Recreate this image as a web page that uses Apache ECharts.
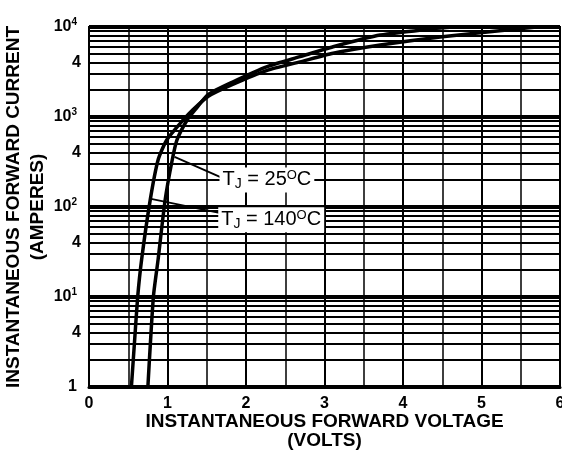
<!DOCTYPE html>
<html>
<head>
<meta charset="utf-8">
<script src="https://cdn.jsdelivr.net/npm/echarts@6/dist/echarts.min.js"></script>
<style>
  html, body { margin: 0; background: #fff; }
  #chart { width: 562px; height: 458px; }
</style>
</head>
<body>
<div id="chart"></div>
<script>
// forward voltage (V) and current (A)
const voltsHot = [0.54, 0.58, 0.62, 0.67, 0.78, 0.88, 0.99, 1.20, 1.32, 1.52, 1.83, 2.27, 2.69, 3.11, 3.71, 4.50, 5.70];
const ampsHot = [1, 3.2, 10, 26, 120, 333, 555, 926, 1196, 1700, 2300, 3300, 4100, 5100, 6300, 7800, 10000];
const voltsCold = [0.75, 0.82, 0.88, 0.97, 1.06, 1.12, 1.25, 1.35, 1.52, 1.83, 2.27, 2.69, 3.11, 3.71, 4.50, 4.65];
const ampsCold = [1, 10, 26, 120, 333, 555, 926, 1196, 1780, 2450, 3630, 4680, 6030, 8130, 9800, 10000];

// log paper: decades plus 2..9 in each
const decades = [1, 10, 100, 1000];
const mantissas = [2, 3, 4, 5, 6, 7, 8, 9];
const fourLabels = [4, 40, 400, 4000];

const font = 'Liberation Sans, Arial, sans-serif';
const pairs = (xs, ys) => xs.map((x, i) => [x, ys[i]]);

const minorLines = [];
decades.forEach(d => mantissas.forEach(m => {
  const v = d * m;
  const item = { yAxis: v };
  if (fourLabels.includes(v)) {
    item.label = { show: true, position: 'start', formatter: '4', distance: 8,
      color: '#000', fontSize: 16, fontWeight: 'bold', fontFamily: font };
  }
  minorLines.push(item);
}));

const tjRich = {
  t: { fontSize: 20, fontFamily: font, color: '#000' },
  sub: { fontSize: 14, fontFamily: font, color: '#000', padding: [9, 0, 0, 0] },
  sup: { fontSize: 13, fontFamily: font, color: '#000', padding: [0, 0, 8, 0] }
};

const myChart = echarts.init(document.getElementById('chart'));
const options = {
  animation: false,
  backgroundColor: '#fff',
  textStyle: { fontFamily: font, color: '#000' },
  grid: {
    left: 89, right: 2, top: 27, bottom: 71,
    outerBoundsMode: 'none',
    show: true, borderColor: '#000', borderWidth: 2
  },
  xAxis: {
    type: 'value',
    min: 0,
    max: 6,
    interval: 1,
    name: 'INSTANTANEOUS FORWARD VOLTAGE\n(VOLTS)',
    nameLocation: 'middle',
    nameGap: 25,
    nameMoveOverlap: false,
    nameTextStyle: { fontSize: 19, fontWeight: 'bold', lineHeight: 19, color: '#000', fontFamily: font },
    axisLine: { lineStyle: { color: '#000', width: 3 } },
    axisTick: { show: false },
    axisLabel: { fontSize: 16, fontWeight: 'bold', color: '#000', margin: 9, fontFamily: font },
    splitLine: { lineStyle: { color: '#000', width: 2 } },
    minorTick: { show: false, splitNumber: 2 },
    minorSplitLine: { show: true, lineStyle: { color: '#000', width: 1.5 } }
  },
  yAxis: {
    type: 'log',
    logBase: 10,
    min: 1,
    max: 10000,
    name: 'INSTANTANEOUS FORWARD CURRENT\n(AMPERES)',
    nameLocation: 'middle',
    nameRotate: 90,
    nameGap: 39,
    nameMoveOverlap: false,
    nameTextStyle: { fontSize: 19, fontWeight: 'bold', lineHeight: 24, color: '#000', fontFamily: font },
    axisLine: { show: true, lineStyle: { color: '#000', width: 2 } },
    axisTick: { show: false },
    axisLabel: {
      margin: 12,
      color: '#000',
      fontSize: 16,
      fontWeight: 'bold',
      fontFamily: font,
      formatter: v => v === 1 ? '1' : '10{sup|' + Math.round(Math.log10(v)) + '}',
      rich: { sup: { fontSize: 10, fontWeight: 'bold', fontFamily: font, color: '#000', padding: [0, 0, 9, 0] } }
    },
    splitLine: { lineStyle: { color: '#000', width: 4 } }
  },
  series: [
    {
      name: 'grid',
      type: 'line',
      data: [],
      z: 1,
      markLine: {
        silent: true,
        symbol: 'none',
        animation: false,
        label: { show: false },
        lineStyle: { color: '#000', width: 1.8, type: 'solid' },
        data: minorLines
      }
    },
    {
      name: 'TJ = 140C',
      type: 'line',
      data: pairs(voltsHot, ampsHot),
      smooth: 0.2,
      symbol: 'none',
      z: 3,
      lineStyle: { color: '#000', width: 3.5 },
      markLine: {
        silent: true,
        symbol: 'none',
        label: { show: false },
        lineStyle: { color: '#000', width: 1.8, type: 'solid' },
        data: [[{ coord: [0.79, 123] }, { coord: [1.66, 86] }]]
      },
      markPoint: {
        symbol: 'circle',
        symbolSize: 1,
        itemStyle: { color: 'rgba(0,0,0,0)' },
        label: {
          show: true,
          position: 'right',
          distance: 0,
          backgroundColor: '#fff',
          padding: [1, 3],
          formatter: '{t|T}{sub|J}{t| = 140}{sup|O}{t|C}',
          rich: tjRich
        },
        data: [{ coord: [1.64, 72] }]
      }
    },
    {
      name: 'TJ = 25C',
      type: 'line',
      data: pairs(voltsCold, ampsCold),
      smooth: 0.2,
      symbol: 'none',
      z: 3,
      lineStyle: { color: '#000', width: 3.5 },
      markLine: {
        silent: true,
        symbol: 'none',
        label: { show: false },
        lineStyle: { color: '#000', width: 1.8, type: 'solid' },
        data: [[{ coord: [1.09, 360] }, { coord: [1.675, 215] }]]
      },
      markPoint: {
        symbol: 'circle',
        symbolSize: 1,
        itemStyle: { color: 'rgba(0,0,0,0)' },
        label: {
          show: true,
          position: 'right',
          distance: 0,
          backgroundColor: '#fff',
          padding: [1, 3],
          formatter: '{t|T}{sub|J}{t| = 25}{sup|O}{t|C}',
          rich: tjRich
        },
        data: [{ coord: [1.656, 200] }]
      }
    }
  ]
};
options && myChart.setOption(options);
</script>
</body>
</html>
